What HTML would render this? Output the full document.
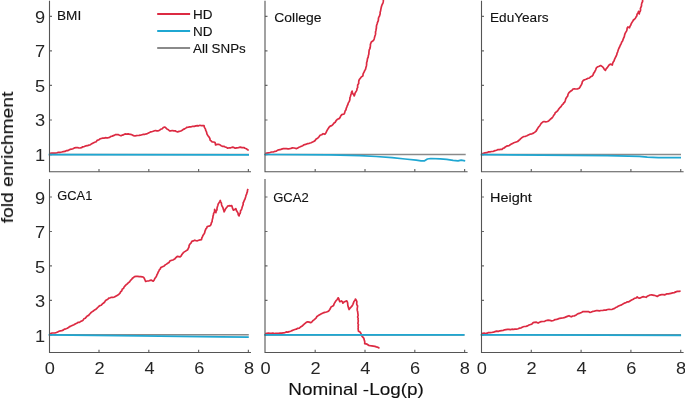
<!DOCTYPE html>
<html><head><meta charset="utf-8"><style>
html,body{margin:0;padding:0;background:#fff;}
svg{display:block;}
text{font-family:"Liberation Sans",sans-serif;fill:#111;stroke:#111;stroke-width:0.12px;}
.t{opacity:0.999;will-change:transform;}
text.tk{fill:#262626;stroke:none;}
</style></head><body>
<svg width="685" height="398" viewBox="0 0 685 398">
<rect width="685" height="398" fill="#fff"/>
<path d="M49.5,154.6 h2.5 M49.5,120.0 h2.5 M49.5,85.4 h2.5 M49.5,50.9 h2.5 M49.5,16.3 h2.5 M99.0,171.7 v-2.8 M148.8,171.7 v-2.8 M198.6,171.7 v-2.8 M248.4,171.7 v-2.8" stroke="#6a6a6a" stroke-width="1.2"/>
<path d="M265.0,154.6 h2.5 M265.0,120.0 h2.5 M265.0,85.4 h2.5 M265.0,50.9 h2.5 M265.0,16.3 h2.5 M315.2,171.7 v-2.8 M365.0,171.7 v-2.8 M414.8,171.7 v-2.8 M464.6,171.7 v-2.8" stroke="#6a6a6a" stroke-width="1.2"/>
<path d="M481.5,154.6 h2.5 M481.5,120.0 h2.5 M481.5,85.4 h2.5 M481.5,50.9 h2.5 M481.5,16.3 h2.5 M531.3,171.7 v-2.8 M581.1,171.7 v-2.8 M630.9,171.7 v-2.8 M680.7,171.7 v-2.8" stroke="#6a6a6a" stroke-width="1.2"/>
<path d="M49.5,334.9 h2.5 M49.5,300.4 h2.5 M49.5,265.9 h2.5 M49.5,231.5 h2.5 M49.5,197.0 h2.5 M99.0,352.5 v-2.8 M148.8,352.5 v-2.8 M198.6,352.5 v-2.8 M248.4,352.5 v-2.8" stroke="#6a6a6a" stroke-width="1.2"/>
<path d="M265.0,334.9 h2.5 M265.0,300.4 h2.5 M265.0,265.9 h2.5 M265.0,231.5 h2.5 M265.0,197.0 h2.5 M315.2,352.5 v-2.8 M365.0,352.5 v-2.8 M414.8,352.5 v-2.8 M464.6,352.5 v-2.8" stroke="#6a6a6a" stroke-width="1.2"/>
<path d="M481.5,334.9 h2.5 M481.5,300.4 h2.5 M481.5,265.9 h2.5 M481.5,231.5 h2.5 M481.5,197.0 h2.5 M531.3,352.5 v-2.8 M581.1,352.5 v-2.8 M630.9,352.5 v-2.8 M680.7,352.5 v-2.8" stroke="#6a6a6a" stroke-width="1.2"/>
<defs><clipPath id="c1"><rect x="0" y="0" width="685" height="172"/></clipPath><clipPath id="c2"><rect x="0" y="178" width="685" height="175"/></clipPath></defs>
<g clip-path="url(#c1)" fill="none" stroke-width="1.7" stroke-linejoin="round" stroke-linecap="butt">
<polyline points="49.5,153.5 50.2,153.4 51.8,153.2 53.4,153.0 55.0,153.2 56.7,153.0 58.3,152.3 60.0,152.3 61.7,152.0 63.3,151.6 65.0,151.4 66.2,150.7 67.5,150.6 68.8,150.1 70.0,149.4 71.4,149.2 72.9,148.7 74.4,147.9 76.0,147.7 77.4,147.5 78.7,147.8 80.1,148.0 81.5,147.7 82.7,146.8 84.2,146.6 85.7,145.9 87.4,145.7 88.9,145.1 90.5,144.7 91.8,143.7 93.2,142.9 94.7,142.2 96.2,141.7 97.2,140.3 98.8,139.9 100.0,138.9 101.3,138.5 102.7,138.1 104.1,138.1 105.4,137.7 106.8,137.8 108.1,137.8 109.6,137.4 110.7,136.5 112.2,136.1 114.0,135.4 115.7,134.6 118.1,134.6 119.5,135.3 121.0,135.8 122.4,135.1 123.9,134.6 125.0,133.9 126.6,134.1 128.2,133.9 129.7,134.3 131.1,134.4 132.4,135.0 133.6,135.7 134.9,136.0 136.3,135.7 137.6,135.5 139.0,135.4 140.5,135.2 141.9,134.8 143.4,134.4 144.9,134.3 146.5,133.9 148.0,133.2 149.5,132.5 150.9,131.8 152.5,131.5 153.9,131.0 155.4,130.5 156.8,130.9 158.3,130.8 159.7,130.2 160.8,129.2 162.3,128.8 163.3,127.5 164.7,127.0 165.9,127.9 166.9,129.0 168.4,129.7 169.4,130.8 170.8,130.8 172.3,130.5 173.8,130.9 175.2,130.8 176.3,131.5 177.6,131.9 179.2,131.4 180.8,131.0 182.2,130.2 183.3,129.4 184.6,128.9 185.8,128.1 186.9,127.3 188.4,127.1 189.8,126.8 191.3,126.8 192.7,126.3 194.3,126.4 195.8,125.9 197.4,125.7 198.7,125.8 200.0,125.3 201.4,125.7 202.7,125.6 204.0,125.5 204.4,127.4 205.5,129.1 205.7,130.4 206.4,131.6 206.7,132.8 207.0,134.1 208.0,135.7 209.1,137.1 209.9,138.5 210.1,140.1 211.1,140.9 212.1,141.8 213.7,142.0 215.1,142.6 215.6,145.0 217.0,144.4 218.6,144.4 220.0,144.8 221.1,145.7 222.4,146.3 223.9,146.3 225.2,147.0 226.5,147.4 227.7,148.2 229.2,147.8 230.8,147.8 232.2,147.2 233.8,147.4 235.2,148.2 236.9,147.8 238.5,147.6 240.2,147.2 242.0,147.6 243.8,147.5 245.0,148.3 246.3,148.7 247.4,149.7 248.8,150.2" stroke="#dc2a42"/>
<polyline points="49.5,154.5 249.0,154.5" stroke="#8a8a8a" stroke-width="1.5"/>
<polyline points="48.6,154.6 249.0,154.8" stroke="#1fa7d2"/>
</g>
<g clip-path="url(#c1)" fill="none" stroke-width="1.7" stroke-linejoin="round" stroke-linecap="butt">
<polyline points="265.2,153.7 266.8,153.1 268.4,152.8 270.0,152.5 271.6,152.0 273.4,152.0 275.0,151.3 276.3,151.2 277.4,150.3 278.7,149.9 280.0,149.7 281.6,149.1 283.3,148.7 285.0,148.5 286.4,148.6 287.9,148.8 289.3,148.8 290.9,148.4 292.5,147.9 294.2,148.0 296.6,148.6 297.8,147.9 299.0,147.3 300.2,146.8 301.4,146.2 302.8,145.7 303.8,144.8 305.6,144.4 307.4,143.7 309.3,143.3 311.1,142.8 312.6,142.1 314.1,141.3 315.2,140.5 315.9,139.2 317.1,138.5 318.3,137.6 319.2,136.5 320.1,135.3 321.7,134.7 323.1,133.7 324.9,134.3 326.0,132.8 326.7,131.1 327.5,129.7 328.3,128.4 329.2,127.1 330.2,126.1 331.7,125.6 332.8,124.7 333.8,123.3 335.2,122.3 335.8,121.1 336.6,120.1 337.6,119.2 339.4,118.4 340.0,117.6 340.7,116.0 341.8,114.6 344.2,114.0 344.7,112.6 345.1,111.1 346.0,109.8 346.2,108.4 346.8,107.1 347.2,105.8 347.9,104.5 348.2,103.1 349.0,101.9 349.6,100.6 349.9,99.2 349.9,97.8 350.4,96.5 350.8,95.1 351.2,93.8 351.5,92.4 352.1,91.1 352.4,92.4 352.8,93.6 353.7,94.7 354.2,95.9 354.7,94.7 355.0,93.4 355.6,92.2 356.3,91.1 356.9,89.9 357.0,88.6 357.7,87.4 357.6,86.0 357.8,84.7 358.7,83.5 358.7,82.2 358.8,80.8 359.3,79.6 360.2,78.4 361.1,77.2 362.9,75.8 363.1,73.9 364.0,72.2 364.7,70.6 365.6,69.1 365.9,67.4 366.4,65.9 366.6,64.4 366.6,62.8 367.1,61.3 367.3,59.9 367.5,58.5 368.2,57.1 368.3,55.7 368.8,54.3 368.9,52.9 369.0,51.5 369.2,50.0 369.9,48.7 370.2,47.3 370.4,45.9 370.4,44.4 371.3,42.0 373.1,40.8 373.9,39.7 374.3,38.4 374.9,36.0 375.4,34.7 375.6,33.4 375.5,32.0 375.9,30.7 376.1,29.3 376.4,28.0 376.4,26.6 376.6,25.3 377.1,24.0 377.4,22.7 378.0,21.4 378.4,20.1 378.4,18.7 378.7,17.4 379.4,16.2 379.8,14.9 380.2,13.6 380.1,12.2 380.6,10.9 380.8,9.5 381.1,8.1 381.4,6.8 381.8,5.4 382.4,4.1 383.0,2.8 383.3,1.4 383.4,0.0 383.7,-1.5 384.0,-3.0" stroke="#dc2a42"/>
<polyline points="265.0,154.5 465.7,154.5" stroke="#8a8a8a" stroke-width="1.5"/>
<polyline points="264.2,154.5 330.0,154.9 360.0,155.6 376.1,156.5 392.1,157.7 405.0,159.0 416.2,160.1 421.0,160.9 424.2,160.9 427.4,159.0 430.7,158.5 440.3,158.8 446.7,159.3 453.1,160.4 458.0,160.9 461.2,160.1 465.2,160.9" stroke="#1fa7d2"/>
</g>
<g clip-path="url(#c1)" fill="none" stroke-width="1.7" stroke-linejoin="round" stroke-linecap="butt">
<polyline points="481.5,153.5 483.3,153.3 485.0,152.9 486.7,152.7 488.3,151.9 490.0,151.8 491.7,151.5 493.4,151.3 495.0,150.6 496.6,150.2 498.0,149.5 499.3,149.6 500.7,149.4 502.0,149.3 503.0,148.3 504.4,147.9 505.3,146.9 506.5,146.2 507.8,145.9 509.1,145.6 510.2,144.8 511.4,144.1 512.6,143.4 513.8,142.8 516.2,142.0 517.6,141.5 518.7,140.5 519.8,139.6 520.7,138.6 521.7,137.8 522.8,137.1 524.0,136.5 525.5,136.3 526.9,135.7 528.3,135.0 530.0,134.2 531.9,133.8 533.5,133.1 534.9,132.1 536.2,131.0 537.0,129.5 537.9,128.1 538.8,126.8 539.8,125.7 540.6,124.3 541.5,123.1 542.7,122.1 544.0,121.5 545.8,121.8 547.6,121.5 548.9,120.7 550.0,119.7 551.0,118.7 552.2,117.8 553.0,116.6 553.8,115.2 554.8,113.9 555.4,112.4 556.7,111.7 557.8,110.6 558.5,109.4 559.4,108.3 560.2,107.3 561.2,106.3 561.9,105.1 563.0,104.2 563.7,103.0 564.7,102.1 565.3,100.5 565.8,98.8 566.7,97.3 567.7,96.0 568.0,94.3 568.8,92.9 569.8,91.9 570.9,91.0 572.1,90.2 573.0,89.0 574.4,88.9 575.7,89.0 577.5,88.9 579.2,88.3 579.9,87.2 580.6,86.0 581.3,84.9 582.0,83.4 582.3,81.8 583.3,80.4 584.7,79.8 586.1,79.3 587.7,78.4 589.5,78.0 590.7,76.7 592.3,75.9 593.2,74.8 593.5,73.4 594.4,72.4 594.9,71.2 595.6,70.1 596.0,68.8 596.5,67.6 597.8,66.8 599.2,66.2 600.6,65.5 602.7,66.9 603.6,68.1 604.3,69.4 605.4,70.4 606.1,68.8 607.3,67.6 608.2,66.2 609.1,65.0 610.3,64.1 612.3,65.0 612.6,63.5 613.2,62.1 614.0,61.0 614.4,59.7 615.0,58.4 615.6,57.2 616.2,56.0 616.8,54.7 617.0,53.3 617.6,52.1 618.0,50.8 618.4,49.5 618.9,48.2 619.6,47.0 620.1,45.7 620.7,44.5 621.3,43.3 621.8,41.9 622.7,40.7 623.1,39.3 623.7,37.9 624.3,36.6 624.6,35.1 625.0,33.7 625.7,32.4 626.5,31.1 627.0,29.7 627.1,28.2 627.9,26.9 629.5,27.8 629.9,26.4 630.8,25.1 631.2,23.7 632.0,22.4 632.8,21.2 633.4,20.0 634.5,19.2 635.4,18.2 636.0,17.1 636.9,15.8 637.0,14.2 638.0,12.9 638.5,11.4 638.8,12.7 639.3,13.9 639.4,12.5 640.2,11.3 640.6,10.0 640.4,8.6 640.9,7.3 641.5,5.9 641.5,4.4 641.9,2.9 642.6,1.5 642.6,0.0 643.0,-1.5 643.0,-3.0" stroke="#dc2a42"/>
<polyline points="481.5,154.5 681.0,154.5" stroke="#8a8a8a" stroke-width="1.5"/>
<polyline points="480.6,154.6 575.0,155.3 607.1,155.6 639.2,156.4 647.3,157.2 658.5,157.7 681.0,157.7" stroke="#1fa7d2"/>
</g>
<g clip-path="url(#c2)" fill="none" stroke-width="1.7" stroke-linejoin="round" stroke-linecap="butt">
<polyline points="49.5,333.6 51.0,333.4 52.3,333.0 53.7,333.0 55.0,332.9 56.4,332.5 57.7,331.9 59.0,331.3 60.4,330.9 61.8,330.6 63.2,330.1 64.4,329.1 65.9,328.8 67.3,328.2 68.5,327.5 69.6,326.6 70.9,326.1 72.2,325.5 73.9,324.7 75.6,323.7 76.8,323.2 77.9,322.4 79.4,322.4 80.5,321.6 81.8,320.9 83.1,320.2 83.9,318.8 85.3,318.2 86.2,317.1 87.2,316.0 88.6,315.4 89.5,314.3 90.5,313.2 91.6,312.1 92.9,311.3 94.1,310.3 95.5,309.6 96.6,308.6 97.7,307.5 98.7,306.5 99.8,305.6 101.2,305.2 102.2,304.1 103.3,303.2 104.5,302.3 105.3,300.9 106.4,299.9 107.8,299.2 108.8,298.1 110.2,297.8 111.5,297.3 112.9,297.4 114.4,297.0 115.7,296.2 117.1,295.4 118.7,294.5 120.0,293.2 120.6,291.8 121.8,290.9 122.2,289.3 123.5,288.4 124.1,287.0 125.1,285.9 126.1,284.8 127.3,283.9 128.3,282.8 129.6,281.9 130.5,280.4 131.7,279.4 132.4,278.3 133.6,277.5 134.5,276.6 136.1,276.4 137.7,276.3 139.3,276.6 140.7,276.6 142.2,276.8 143.5,277.3 144.4,278.6 145.0,280.0 145.6,281.5 147.3,281.0 149.0,280.8 151.1,280.1 153.2,281.2 154.2,280.0 154.8,278.5 155.8,277.2 156.6,275.9 157.0,274.6 157.7,273.5 158.1,272.2 158.8,271.1 159.3,269.8 160.3,268.9 160.8,267.6 162.5,266.8 164.2,266.0 165.2,264.9 166.5,264.1 167.7,263.2 169.0,262.5 169.8,261.1 171.1,260.4 172.9,260.0 174.6,259.1 175.9,257.7 177.3,256.3 178.7,256.6 180.1,256.9 181.2,255.9 181.8,254.6 182.7,253.5 183.6,252.4 185.6,251.1 187.7,249.7 188.3,248.3 189.0,247.0 189.1,245.5 189.9,244.1 191.1,242.9 191.8,241.4 193.3,240.9 194.6,240.2 196.0,240.6 197.4,240.8 198.7,240.3 200.1,239.9 201.5,239.6 201.8,238.0 202.5,236.6 203.1,235.2 204.0,233.9 204.7,232.7 204.9,231.4 205.4,230.1 205.9,228.9 206.9,227.8 207.2,226.5 208.9,226.2 210.5,225.4 211.1,224.2 211.4,222.8 212.1,221.6 212.2,220.2 212.5,218.9 212.9,217.5 213.0,216.1 213.5,214.8 213.6,213.4 214.4,212.2 214.6,210.8 214.6,209.4 215.2,211.1 215.9,212.7 216.1,211.2 217.0,209.8 217.0,208.2 217.4,206.8 217.9,205.3 218.2,203.9 219.0,202.8 219.7,201.6 220.3,200.4 220.7,201.8 221.4,203.2 221.6,204.7 222.0,206.1 222.9,207.4 223.2,208.9 223.8,210.3 224.1,211.8 224.8,210.6 225.3,209.3 226.0,208.2 226.9,207.2 227.7,206.1 229.0,205.7 230.4,205.8 231.7,205.6 232.2,207.1 232.7,208.7 233.4,210.2 234.7,209.5 235.8,208.6 236.2,209.9 236.7,211.1 237.5,212.2 238.1,213.4 238.2,214.8 239.1,215.9 239.3,214.5 240.1,213.4 240.5,212.1 240.5,210.7 241.5,209.6 241.9,208.3 242.2,207.0 242.7,205.7 243.2,204.4 243.1,203.0 243.8,201.8 244.2,200.5 244.9,199.3 245.3,198.0 245.7,196.8 246.0,195.4 246.6,194.2 246.9,192.9 247.4,191.6 247.5,190.2 248.1,189.0" stroke="#dc2a42"/>
<polyline points="49.5,334.8 248.8,334.8" stroke="#8a8a8a" stroke-width="1.5"/>
<polyline points="48.6,334.8 140.0,335.8 220.6,336.8 248.8,337.1" stroke="#1fa7d2"/>
</g>
<g clip-path="url(#c2)" fill="none" stroke-width="1.7" stroke-linejoin="round" stroke-linecap="butt">
<polyline points="265.2,333.7 266.8,333.3 268.4,333.2 270.0,333.4 271.4,333.3 272.9,333.1 274.3,333.5 275.7,333.3 277.1,333.3 278.6,333.3 280.0,333.2 281.7,333.1 283.3,332.8 285.0,332.6 286.3,331.9 287.8,332.1 289.2,331.6 290.7,331.2 292.0,330.6 293.4,330.0 294.8,329.5 296.3,329.2 297.7,328.3 299.3,328.2 301.0,326.7 302.6,325.7 303.9,324.4 305.1,323.4 306.3,322.4 307.8,321.8 309.3,322.1 310.7,322.7 311.9,321.9 312.8,320.7 314.0,319.9 315.1,318.9 316.2,317.8 316.9,316.5 318.3,315.6 319.7,314.8 321.4,313.8 323.1,312.9 324.8,312.4 326.5,312.0 327.8,311.5 328.9,310.7 329.8,309.5 330.5,308.1 331.2,306.8 332.4,306.3 333.6,305.6 333.9,304.3 334.5,303.1 335.2,302.0 335.9,300.9 337.2,299.5 338.2,297.8 338.9,299.0 339.2,300.4 339.8,301.7 341.4,300.9 342.4,301.9 342.9,303.2 344.5,301.7 346.8,300.9 347.5,302.3 347.7,303.7 347.8,305.2 348.2,306.7 348.6,308.1 349.1,309.5 350.1,308.1 351.2,306.9 352.3,305.6 352.9,304.3 353.5,302.9 353.9,301.5 355.0,300.4 355.4,299.0 356.3,300.2 356.9,301.7 356.7,303.2 356.8,304.6 357.6,306.0 357.4,307.5 357.2,308.9 357.3,310.4 357.7,311.8 357.8,313.1 358.0,314.4 358.1,315.7 357.6,317.0 358.2,318.3 358.0,319.6 358.3,320.9 358.1,322.2 357.9,323.5 358.5,324.8 358.1,326.1 358.3,327.4 358.1,328.7 358.3,330.0 358.5,331.3 360.0,332.1 361.0,333.5 361.4,335.3 362.4,336.7 363.9,338.3 364.1,339.6 364.6,341.0 364.8,342.3 364.7,343.7 367.1,344.2 368.6,345.3 370.2,345.6 371.7,345.8 373.3,346.1 374.9,346.4 376.4,346.9 378.1,347.4 379.5,348.4" stroke="#dc2a42"/>
<polyline points="265.0,334.9 464.5,334.9" stroke="#8a8a8a" stroke-width="1.5"/>
<polyline points="264.2,334.9 464.5,334.9" stroke="#1fa7d2"/>
</g>
<g clip-path="url(#c2)" fill="none" stroke-width="1.7" stroke-linejoin="round" stroke-linecap="butt">
<polyline points="481.5,333.5 482.9,333.3 484.2,333.2 485.6,333.5 487.0,333.2 488.4,332.6 490.0,332.7 491.7,332.5 493.4,332.2 495.0,331.6 496.6,331.1 498.4,331.4 500.0,330.8 501.5,330.6 503.1,330.5 504.5,329.8 506.0,329.6 507.5,329.4 508.9,329.3 510.4,329.6 511.9,329.2 513.4,329.3 515.0,329.1 516.5,329.2 518.1,328.7 519.6,328.1 521.2,327.8 522.7,327.0 524.2,326.5 525.9,326.3 527.6,325.9 529.0,325.0 530.6,324.5 531.9,324.1 532.8,322.9 534.1,322.4 536.4,322.2 538.1,323.1 539.5,322.2 541.1,321.6 542.9,321.5 544.6,321.3 546.3,320.5 548.1,320.1 549.9,320.4 551.6,320.8 553.5,320.5 555.1,319.6 556.7,319.4 558.2,318.9 559.7,318.3 561.2,318.1 562.7,318.0 564.1,317.7 565.5,317.1 567.3,316.4 569.0,315.7 570.1,316.4 571.4,316.8 572.8,316.0 574.3,315.9 575.7,315.3 577.0,314.3 578.4,313.6 580.0,313.1 581.5,312.4 583.0,311.6 585.4,311.6 586.9,311.6 588.3,311.5 589.7,312.3 591.2,312.1 592.7,311.4 594.3,311.1 595.9,310.7 597.7,310.7 599.4,310.9 600.9,310.5 602.6,310.5 604.1,310.1 605.9,310.1 607.6,309.5 609.1,309.3 610.7,309.5 612.2,309.3 614.6,308.4 615.7,307.6 617.0,307.0 618.1,306.3 619.8,305.5 621.6,304.9 623.0,303.9 624.6,303.1 626.2,302.5 627.4,301.8 628.8,301.8 630.0,301.0 631.6,300.1 633.2,299.3 634.4,298.4 636.0,298.0 637.2,297.0 638.3,297.9 639.6,298.1 641.0,297.6 642.3,296.9 643.7,296.7 646.1,297.3 647.2,296.3 648.5,295.7 650.0,295.0 651.7,294.9 654.1,295.3 655.7,295.8 657.3,296.5 658.8,295.4 660.5,294.9 661.8,294.7 663.2,294.7 664.5,294.9 665.7,294.4 666.9,293.8 668.3,293.9 669.7,293.6 671.0,293.3 672.6,292.9 674.2,292.6 675.8,291.9 677.4,291.4 679.0,291.3 680.6,291.2" stroke="#dc2a42"/>
<polyline points="481.5,334.8 681.0,334.7" stroke="#8a8a8a" stroke-width="1.5"/>
<polyline points="480.6,334.9 600.0,335.1 681.1,335.4" stroke="#1fa7d2"/>
</g>
<path d="M49.5,0.8 V171.7 H251.0" fill="none" stroke="#555555" stroke-width="1.1"/>
<path d="M265.0,0.8 V171.7 H467.6" fill="none" stroke="#555555" stroke-width="1.1"/>
<path d="M481.5,0.8 V171.7 H683.6" fill="none" stroke="#555555" stroke-width="1.1"/>
<path d="M49.5,179.1 V352.5 H251.0" fill="none" stroke="#555555" stroke-width="1.1"/>
<path d="M265.0,179.1 V352.5 H467.6" fill="none" stroke="#555555" stroke-width="1.1"/>
<path d="M481.5,179.1 V352.5 H683.6" fill="none" stroke="#555555" stroke-width="1.1"/>
<path d="M157.2,13.95 H190.1" stroke="#dc2a42" stroke-width="2"/>
<path d="M157.2,31.0 H190.1" stroke="#1fa7d2" stroke-width="2"/>
<path d="M157.2,48.0 H190.1" stroke="#8a8a8a" stroke-width="2"/>
<g class="t">
<text x="57.0" y="20.2" font-size="12.6" text-anchor="start" textLength="24.2" lengthAdjust="spacingAndGlyphs">BMI</text>
<text x="274.3" y="21.8" font-size="13.3" text-anchor="start" textLength="47.2" lengthAdjust="spacingAndGlyphs">College</text>
<text x="490.0" y="21.8" font-size="13.3" text-anchor="start" textLength="58.5" lengthAdjust="spacingAndGlyphs">EduYears</text>
<text x="57.3" y="200.0" font-size="12.6" text-anchor="start" textLength="35.0" lengthAdjust="spacingAndGlyphs">GCA1</text>
<text x="273.2" y="202.2" font-size="13.3" text-anchor="start" textLength="35.5" lengthAdjust="spacingAndGlyphs">GCA2</text>
<text x="490.0" y="201.6" font-size="13.3" text-anchor="start" textLength="41.8" lengthAdjust="spacingAndGlyphs">Height</text>
<text x="193.0" y="18.6" font-size="12.6" text-anchor="start" textLength="19.5" lengthAdjust="spacingAndGlyphs">HD</text>
<text x="193.0" y="35.8" font-size="12.6" text-anchor="start" textLength="19.5" lengthAdjust="spacingAndGlyphs">ND</text>
<text x="193.0" y="53.0" font-size="12.6" text-anchor="start" textLength="52.8" lengthAdjust="spacingAndGlyphs">All SNPs</text>
<text x="45.2" y="161.0" font-size="16" class="tk" text-anchor="end" transform="translate(45.2 0) scale(1.14 1) translate(-45.2 0)">1</text>
<text x="45.2" y="126.4" font-size="16" class="tk" text-anchor="end" transform="translate(45.2 0) scale(1.14 1) translate(-45.2 0)">3</text>
<text x="45.2" y="91.8" font-size="16" class="tk" text-anchor="end" transform="translate(45.2 0) scale(1.14 1) translate(-45.2 0)">5</text>
<text x="45.2" y="57.3" font-size="16" class="tk" text-anchor="end" transform="translate(45.2 0) scale(1.14 1) translate(-45.2 0)">7</text>
<text x="45.2" y="22.7" font-size="16" class="tk" text-anchor="end" transform="translate(45.2 0) scale(1.14 1) translate(-45.2 0)">9</text>
<text x="45.2" y="341.8" font-size="16" class="tk" text-anchor="end" transform="translate(45.2 0) scale(1.14 1) translate(-45.2 0)">1</text>
<text x="45.2" y="307.3" font-size="16" class="tk" text-anchor="end" transform="translate(45.2 0) scale(1.14 1) translate(-45.2 0)">3</text>
<text x="45.2" y="272.8" font-size="16" class="tk" text-anchor="end" transform="translate(45.2 0) scale(1.14 1) translate(-45.2 0)">5</text>
<text x="45.2" y="238.4" font-size="16" class="tk" text-anchor="end" transform="translate(45.2 0) scale(1.14 1) translate(-45.2 0)">7</text>
<text x="45.2" y="203.9" font-size="16" class="tk" text-anchor="end" transform="translate(45.2 0) scale(1.14 1) translate(-45.2 0)">9</text>
<text x="49.9" y="373.6" font-size="16" class="tk" text-anchor="middle" transform="translate(49.9 0) scale(1.14 1) translate(-49.9 0)">0</text>
<text x="99.7" y="373.6" font-size="16" class="tk" text-anchor="middle" transform="translate(99.7 0) scale(1.14 1) translate(-99.7 0)">2</text>
<text x="149.5" y="373.6" font-size="16" class="tk" text-anchor="middle" transform="translate(149.5 0) scale(1.14 1) translate(-149.5 0)">4</text>
<text x="199.3" y="373.6" font-size="16" class="tk" text-anchor="middle" transform="translate(199.3 0) scale(1.14 1) translate(-199.3 0)">6</text>
<text x="249.1" y="373.6" font-size="16" class="tk" text-anchor="middle" transform="translate(249.1 0) scale(1.14 1) translate(-249.1 0)">8</text>
<text x="265.7" y="373.6" font-size="16" class="tk" text-anchor="middle" transform="translate(265.7 0) scale(1.14 1) translate(-265.7 0)">0</text>
<text x="315.5" y="373.6" font-size="16" class="tk" text-anchor="middle" transform="translate(315.5 0) scale(1.14 1) translate(-315.5 0)">2</text>
<text x="365.3" y="373.6" font-size="16" class="tk" text-anchor="middle" transform="translate(365.3 0) scale(1.14 1) translate(-365.3 0)">4</text>
<text x="415.1" y="373.6" font-size="16" class="tk" text-anchor="middle" transform="translate(415.1 0) scale(1.14 1) translate(-415.1 0)">6</text>
<text x="464.9" y="373.6" font-size="16" class="tk" text-anchor="middle" transform="translate(464.9 0) scale(1.14 1) translate(-464.9 0)">8</text>
<text x="481.9" y="373.6" font-size="16" class="tk" text-anchor="middle" transform="translate(481.9 0) scale(1.14 1) translate(-481.9 0)">0</text>
<text x="531.7" y="373.6" font-size="16" class="tk" text-anchor="middle" transform="translate(531.7 0) scale(1.14 1) translate(-531.7 0)">2</text>
<text x="581.5" y="373.6" font-size="16" class="tk" text-anchor="middle" transform="translate(581.5 0) scale(1.14 1) translate(-581.5 0)">4</text>
<text x="631.3" y="373.6" font-size="16" class="tk" text-anchor="middle" transform="translate(631.3 0) scale(1.14 1) translate(-631.3 0)">6</text>
<text x="681.1" y="373.6" font-size="16" class="tk" text-anchor="middle" transform="translate(681.1 0) scale(1.14 1) translate(-681.1 0)">8</text>
<text x="288.3" y="394.5" font-size="16.2" text-anchor="start" textLength="135.5" lengthAdjust="spacingAndGlyphs">Nominal -Log(p)</text>
<text x="0" y="0" font-size="16.2" textLength="131.5" lengthAdjust="spacingAndGlyphs" transform="translate(13.0 223.2) rotate(-90)">fold enrichment</text>
</g>
</svg>
</body></html>
